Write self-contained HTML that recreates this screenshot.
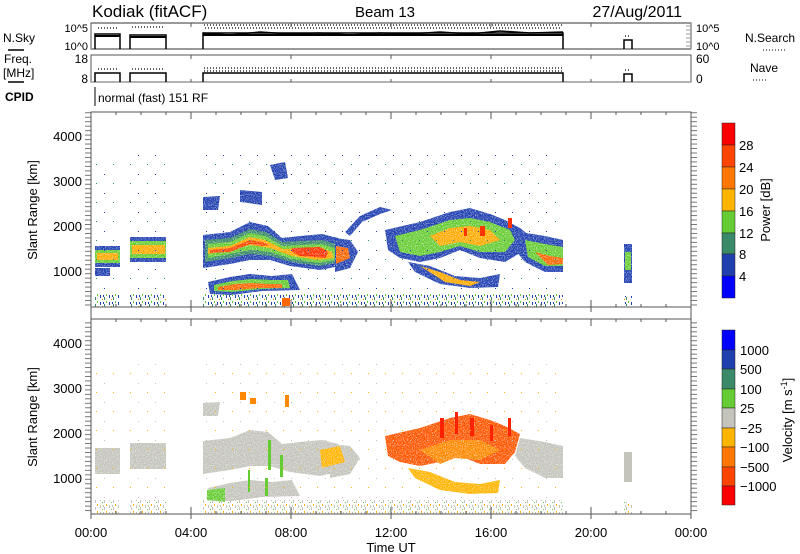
<!DOCTYPE html>
<html><head><meta charset="utf-8"><style>
html,body{margin:0;padding:0;background:#fff;}
svg{display:block;font-family:"Liberation Sans",sans-serif;}
</style></head><body>
<svg width="800" height="554" viewBox="0 0 800 554" xmlns="http://www.w3.org/2000/svg">
<defs>
<pattern id="ytk" x="0" y="0.5" width="6" height="4.47" patternUnits="userSpaceOnUse"><line x1="0" y1="0.5" x2="6" y2="0.5" stroke="#555" stroke-width="0.8"/></pattern>
<pattern id="clutP" width="9" height="7" patternUnits="userSpaceOnUse"><rect x="1" y="1" width="1" height="3" fill="#2040b0"/><rect x="5" y="3" width="1" height="3" fill="#3a8a6a"/><rect x="7" y="0" width="1" height="2" fill="#66cc33"/><rect x="3" y="5" width="1" height="1" fill="#ff8800"/><rect x="4" y="1" width="1" height="2" fill="#2040b0"/></pattern>
<pattern id="clutV" width="9" height="7" patternUnits="userSpaceOnUse"><rect x="1" y="1" width="1" height="3" fill="#c4c4bc"/><rect x="5" y="3" width="1" height="3" fill="#c4c4bc"/><rect x="7" y="0" width="1" height="2" fill="#ffb400"/><rect x="3" y="5" width="1" height="1" fill="#66cc33"/><rect x="4" y="1" width="1" height="2" fill="#c4c4bc"/></pattern>
<pattern id="dotsP" width="17" height="19" patternUnits="userSpaceOnUse"><rect x="2" y="3" width="1" height="1" fill="#2040b0"/><rect x="11" y="12" width="1" height="1" fill="#3a8a6a"/></pattern>
<pattern id="dotsV" width="17" height="19" patternUnits="userSpaceOnUse"><rect x="2" y="3" width="1" height="1" fill="#c4c4bc"/><rect x="11" y="12" width="1" height="1" fill="#ffb400"/></pattern>
<filter id="spk" x="0" y="0" width="1" height="1"><feTurbulence type="fractalNoise" baseFrequency="0.9" numOctaves="1" seed="3" result="n"/><feColorMatrix in="n" type="matrix" values="0 0 0 0 0  0 0 0 0 0  0 0 0 0 0  0 0 0 -2.0 1.9" result="m"/><feComposite in="SourceGraphic" in2="m" operator="in"/></filter>
</defs>

<!-- Titles -->
<text x="92" y="17" font-size="17">Kodiak (fitACF)</text>
<text x="385" y="17" font-size="15" text-anchor="middle">Beam 13</text>
<text x="682" y="17" font-size="16" text-anchor="end">27/Aug/2011</text>

<!-- N.Sky panel -->
<rect x="91" y="23" width="600" height="26" fill="none" stroke="#555" stroke-width="1"/>
<line x1="91" y1="23" x2="691" y2="23" stroke="#999" stroke-width="2"/>
<line x1="91" y1="49" x2="691" y2="49" stroke="#999" stroke-width="2"/>
<text x="88" y="32" font-size="11" text-anchor="end">10^5</text>
<text x="88" y="50" font-size="11" text-anchor="end">10^0</text>
<text x="696" y="32" font-size="11">10^5</text>
<text x="696" y="50" font-size="11">10^0</text>
<text x="3" y="42" font-size="12">N.Sky</text>
<line x1="8" y1="50" x2="24" y2="50" stroke="#000" stroke-width="1.5"/>
<text x="745" y="42" font-size="12">N.Search</text>
<line x1="763" y1="50" x2="785" y2="50" stroke="#000" stroke-width="1" stroke-dasharray="1,2"/>
<g fill="none" stroke="#000" stroke-width="1.5">
<path d="M95,49 V34 H120 V49 M130,49 V35 H166 V49 M203,49 V33 H563 V49 M624,49 V40 H632 V49"/>
</g>
<g stroke="#000" stroke-width="1.5" fill="none"><path d="M203,33 L230,35 L260,32 L290,34 L320,33 L350,35 L380,33 L410,34 L440,32 L470,34 L500,31 L530,33 L563,32"/><path d="M203,35 H563" stroke-width="2"/><path d="M95,36 H120 M130,37 H166" stroke-width="2"/></g>
<g stroke="#000" stroke-width="1.2" stroke-dasharray="1,2" fill="none"><path d="M98,28 H118 M132,27 H165 M204,25 H562 M205,28 H560 M625,36 H631"/></g>
<g stroke="#999" stroke-width="1"><path d="M691,26 h-5 M691,30 h-5 M691,34 h-5 M691,38 h-5 M691,42 h-5 M691,46 h-5"/></g>

<!-- Freq panel -->
<rect x="91" y="55" width="600" height="27" fill="none" stroke="#555" stroke-width="1"/>
<line x1="91" y1="82" x2="691" y2="82" stroke="#999" stroke-width="1.5"/>
<text x="88" y="63" font-size="12" text-anchor="end">18</text>
<text x="88" y="83" font-size="12" text-anchor="end">8</text>
<text x="696" y="63" font-size="12">60</text>
<text x="696" y="83" font-size="12">0</text>
<text x="4" y="63" font-size="12">Freq.</text>
<text x="3" y="77" font-size="12">[MHz]</text>
<line x1="8" y1="82" x2="24" y2="82" stroke="#000" stroke-width="1.5"/>
<text x="750" y="72" font-size="12">Nave</text>
<line x1="753" y1="80" x2="766" y2="80" stroke="#000" stroke-width="1" stroke-dasharray="1,2"/>
<g fill="none" stroke="#000" stroke-width="1.5">
<path d="M95,82 V73 H120 V82 M130,82 V73 H166 V82 M203,82 V73 H563 V82 M624,82 V74 H632 V82"/>
</g>
<g stroke="#000" stroke-width="1.2" stroke-dasharray="1,2" fill="none"><path d="M98,69 H118 M132,69 H165 M204,68 H562 M204,71 H562 M625,70 H631"/></g>

<!-- CPID -->
<text x="5" y="101" font-size="12" font-weight="bold">CPID</text>
<line x1="95" y1="87" x2="95" y2="106" stroke="#000" stroke-width="1"/>
<text x="98" y="102" font-size="12">normal (fast) 151 RF</text>

<!-- POWER PANEL -->
<g>
<g filter="url(#spk)">
<rect x="95" y="246" width="25" height="21" fill="#2040b0"/>
<rect x="95" y="250" width="25" height="13" fill="#66cc33"/>
<rect x="97" y="253" width="21" height="7" fill="#ffaa00"/>
<rect x="95" y="268" width="15" height="8" fill="#2040b0"/>
<rect x="130" y="237" width="36" height="25" fill="#2040b0"/>
<rect x="130" y="241" width="36" height="17" fill="#66cc33"/>
<rect x="132" y="245" width="33" height="9" fill="#ffaa00"/>
<polygon points="203,235 230,232 250,222 268,226 282,238 300,236 322,234 338,238 355,252 345,265 320,270 290,266 270,260 250,260 230,264 203,268" fill="#2040b0"/>
<polygon points="205,240 230,238 250,229 266,232 282,242 300,241 322,240 336,244 348,253 340,262 320,266 292,262 270,256 250,254 230,258 205,262" fill="#3a8a6a"/>
<polygon points="208,244 230,242 250,233 265,236 283,246 300,245 322,244 334,248 342,254 336,260 318,263 292,259 270,252 250,250 230,254 208,258" fill="#66cc33"/>
<polygon points="208,248 230,246 250,237 265,240 283,249 300,248 320,247 332,252 334,258 318,260 292,256 270,248 250,245 230,250 208,254" fill="#ffaa00"/>
<polygon points="210,250 230,248 250,240 262,242 270,245 262,246 250,244 230,252 210,253" fill="#ff4400"/>
<polygon points="292,248 320,247 328,252 326,258 300,256 292,252" fill="#ff3300"/>
<polygon points="208,282 230,277 250,274 272,276 292,274 300,290 262,291 232,295 210,294" fill="#2040b0"/>
<polygon points="214,285 232,281 252,279 272,280 288,280 290,288 262,289 232,292 214,291" fill="#66cc33"/>
<polygon points="218,287 235,284 252,283 270,284 282,284 282,288 260,288 235,290 218,290" fill="#ff6600"/>
<polygon points="335,238 350,240 358,252 350,268 335,272" fill="#2040b0"/>
<polygon points="336,246 348,248 350,258 336,264" fill="#ff6600"/>
<polygon points="345,232 360,216 380,207 392,210 380,214 362,222 350,236" fill="#2040b0"/>
<polygon points="385,230 420,222 450,212 470,208 490,214 505,220 520,228 530,236 525,250 505,262 480,258 460,250 440,258 420,262 400,258 388,250" fill="#2040b0"/>
<polygon points="395,236 420,230 450,220 470,218 490,222 510,230 515,240 505,252 480,252 460,246 440,252 420,256 400,252" fill="#66cc33"/>
<polygon points="430,236 450,228 470,226 490,230 500,240 480,246 460,242 440,246" fill="#ffaa00"/>
<polygon points="408,262 430,266 455,276 480,278 500,274 498,287 470,288 440,284 415,272" fill="#2040b0"/>
<polygon points="420,266 440,272 460,280 480,282 470,286 445,282" fill="#ffaa00"/>
<polygon points="520,232 545,236 563,240 563,272 545,272 525,262 515,250" fill="#2040b0"/>
<polygon points="525,240 545,244 563,247 563,266 545,266 528,257" fill="#66cc33"/>
<polygon points="535,252 550,256 563,258 563,264 548,265" fill="#ff6600"/>
<rect x="624" y="244" width="8" height="39" fill="#2040b0"/>
<rect x="625" y="252" width="6" height="18" fill="#66cc33"/>
<polygon points="203,197 220,196 218,210 203,210" fill="#2040b0"/>
<polygon points="240,190 262,192 262,205 240,202" fill="#2040b0"/>
<polygon points="270,165 285,162 288,178 275,180" fill="#2040b0"/>
</g>
<g fill="#ff3300">
<rect x="480" y="226" width="5" height="10"/><rect x="508" y="218" width="4" height="10"/><rect x="464" y="228" width="3" height="8"/>
</g>
<rect x="95" y="160" width="25" height="135" fill="url(#dotsP)"/>
<rect x="130" y="155" width="36" height="140" fill="url(#dotsP)"/>
<rect x="203" y="155" width="360" height="140" fill="url(#dotsP)"/>
<rect x="95" y="293" width="25" height="14" fill="url(#clutP)"/>
<rect x="130" y="293" width="36" height="14" fill="url(#clutP)"/>
<rect x="203" y="293" width="360" height="14" fill="url(#clutP)"/>
<rect x="282" y="298" width="8" height="8" fill="#ff6600"/>
<rect x="624" y="296" width="8" height="10" fill="url(#clutP)"/>
</g>
<rect x="91" y="112" width="600" height="195" fill="none" stroke="#555" stroke-width="1"/>
<rect x="85" y="112" width="6" height="195" fill="url(#ytk)"/>
<rect x="691" y="112" width="6" height="195" fill="url(#ytk)"/>
<g font-size="13" text-anchor="end">
<text x="82" y="141">4000</text><text x="82" y="186">3000</text><text x="82" y="231">2000</text><text x="82" y="276">1000</text>
</g>
<text transform="translate(37,210) rotate(-90)" font-size="13" text-anchor="middle">Slant  Range  [km]</text>

<!-- VELOCITY PANEL -->
<g>
<g filter="url(#spk)">
<rect x="95" y="448" width="25" height="26" fill="#c4c4bc"/>
<rect x="130" y="443" width="36" height="26" fill="#c4c4bc"/>
<polygon points="203,441 230,438 250,430 268,432 282,444 300,442 322,440 338,444 355,458 345,471 320,476 290,472 270,466 250,466 230,470 203,474" fill="#c4c4bc"/>
<polygon points="208,488 230,483 250,480 272,482 292,480 300,496 262,497 232,501 210,500" fill="#c4c4bc"/>
<polygon points="330,444 350,446 360,458 350,474 330,478" fill="#c4c4bc"/>
<polygon points="520,438 545,442 563,446 563,478 545,478 525,468 515,456" fill="#c4c4bc"/>
<polygon points="203,403 220,402 218,416 203,416" fill="#c4c4bc"/>
<polygon points="408,468 430,472 455,482 480,484 500,480 498,493 470,494 440,490 415,478" fill="#ffb400"/>
<polygon points="385,436 420,428 450,418 470,414 490,420 505,426 520,434 515,452 505,464 480,464 460,456 440,462 420,466 400,462 388,456" fill="#ff5500"/>
<polygon points="420,450 450,440 480,440 500,450 480,460 455,458 440,464" fill="#ff8800"/>
<polygon points="320,450 340,446 345,462 322,468" fill="#ffb400"/>
<polygon points="207,490 225,488 225,502 207,500" fill="#66cc33"/>
</g>
<g fill="#ff2200">
<rect x="440" y="418" width="4" height="20"/><rect x="455" y="412" width="3" height="22"/><rect x="470" y="418" width="4" height="18"/><rect x="490" y="425" width="3" height="16"/><rect x="508" y="418" width="3" height="18"/>
</g>
<g fill="#66cc33">
<rect x="268" y="440" width="3" height="30"/><rect x="280" y="455" width="3" height="22"/><rect x="248" y="470" width="2" height="22"/><rect x="265" y="478" width="3" height="18"/>
</g>
<g fill="#ff8800"><rect x="240" y="392" width="6" height="8"/><rect x="250" y="398" width="6" height="6"/><rect x="285" y="395" width="4" height="12"/></g>
<rect x="95" y="366" width="25" height="135" fill="url(#dotsV)"/>
<rect x="130" y="361" width="36" height="140" fill="url(#dotsV)"/>
<rect x="203" y="361" width="360" height="140" fill="url(#dotsV)"/>
<rect x="95" y="500" width="25" height="14" fill="url(#clutV)"/>
<rect x="130" y="500" width="36" height="14" fill="url(#clutV)"/>
<rect x="203" y="500" width="360" height="14" fill="url(#clutV)"/>
<rect x="624" y="452" width="8" height="30" fill="#c4c4bc"/>
<rect x="624" y="502" width="8" height="12" fill="url(#clutV)"/>
</g>
<rect x="91" y="319" width="600" height="195" fill="none" stroke="#555" stroke-width="1"/>
<rect x="85" y="319" width="6" height="195" fill="url(#ytk)"/>
<rect x="691" y="319" width="6" height="195" fill="url(#ytk)"/>
<g font-size="13" text-anchor="end">
<text x="82" y="348">4000</text><text x="82" y="393">3000</text><text x="82" y="438">2000</text><text x="82" y="483">1000</text>
</g>
<text transform="translate(37,417) rotate(-90)" font-size="13" text-anchor="middle">Slant  Range  [km]</text>

<!-- x ticks -->
<g stroke="#555" stroke-width="1">
<path d="M91,112v7 M191,112v7 M291,112v7 M391,112v7 M491,112v7 M591,112v7 M691,112v7
M116,112v3 M141,112v3 M166,112v3 M216,112v3 M241,112v3 M266,112v3 M316,112v3 M341,112v3 M366,112v3 M416,112v3 M441,112v3 M466,112v3 M516,112v3 M541,112v3 M566,112v3 M616,112v3 M641,112v3 M666,112v3"/>
<path d="M91,307v-7 M191,307v-7 M291,307v-7 M391,307v-7 M491,307v-7 M591,307v-7 M691,307v-7
M116,307v-3 M141,307v-3 M166,307v-3 M216,307v-3 M241,307v-3 M266,307v-3 M316,307v-3 M341,307v-3 M366,307v-3 M416,307v-3 M441,307v-3 M466,307v-3 M516,307v-3 M541,307v-3 M566,307v-3 M616,307v-3 M641,307v-3 M666,307v-3"/>
<path d="M91,307v12 M191,307v5 M291,307v5 M391,307v5 M491,307v5 M591,307v5 M691,307v12 M116,319v3 M141,319v3 M166,319v3 M191,319v7 M216,319v3 M241,319v3 M266,319v3 M291,319v7 M316,319v3 M341,319v3 M366,319v3 M391,319v7 M416,319v3 M441,319v3 M466,319v3 M491,319v7 M516,319v3 M541,319v3 M566,319v3 M591,319v7 M616,319v3 M641,319v3 M666,319v3"/>
<path d="M91,514v-7 M191,514v-7 M291,514v-7 M391,514v-7 M491,514v-7 M591,514v-7 M691,514v-7
M116,514v-3 M141,514v-3 M166,514v-3 M216,514v-3 M241,514v-3 M266,514v-3 M316,514v-3 M341,514v-3 M366,514v-3 M416,514v-3 M441,514v-3 M466,514v-3 M516,514v-3 M541,514v-3 M566,514v-3 M616,514v-3 M641,514v-3 M666,514v-3
M91,514v5 M191,514v5 M291,514v5 M391,514v5 M491,514v5 M591,514v5 M691,514v5"/>
<path d="M91,23v4 M191,23v4 M291,23v4 M391,23v4 M491,23v4 M591,23v4 M91,55v4 M191,55v4 M291,55v4 M391,55v4 M491,55v4 M591,55v4 M191,82v-3 M291,82v-3 M391,82v-3 M491,82v-3 M591,82v-3"/>
</g>
<g font-size="13" text-anchor="middle">
<text x="91" y="537">00:00</text><text x="191" y="537">04:00</text><text x="291" y="537">08:00</text><text x="391" y="537">12:00</text><text x="491" y="537">16:00</text><text x="591" y="537">20:00</text><text x="691" y="537">00:00</text>
</g>
<text x="391" y="552" font-size="13" text-anchor="middle">Time UT</text>

<!-- Power colorbar -->
<g stroke="#222" stroke-width="0.5">
<rect x="722" y="123" width="13" height="22" fill="#ff0000"/>
<rect x="722" y="145" width="13" height="22" fill="#ff4400"/>
<rect x="722" y="167" width="13" height="22" fill="#ff7700"/>
<rect x="722" y="189" width="13" height="22" fill="#ffb400"/>
<rect x="722" y="211" width="13" height="22" fill="#66cc33"/>
<rect x="722" y="233" width="13" height="21" fill="#3a8a6a"/>
<rect x="722" y="254" width="13" height="22" fill="#2040b0"/>
<rect x="722" y="276" width="13" height="22" fill="#0000ff"/>
</g>
<g font-size="13">
<text x="739" y="150">28</text><text x="739" y="172">24</text><text x="739" y="194">20</text><text x="739" y="216">16</text><text x="739" y="238">12</text><text x="739" y="259">8</text><text x="739" y="281">4</text>
</g>
<text transform="translate(770,210) rotate(-90)" font-size="13" text-anchor="middle">Power  [dB]</text>

<!-- Velocity colorbar -->
<g stroke="#222" stroke-width="0.5">
<rect x="722" y="330" width="13" height="20" fill="#0000ff"/>
<rect x="722" y="350" width="13" height="19" fill="#2040b0"/>
<rect x="722" y="369" width="13" height="20" fill="#3a8a6a"/>
<rect x="722" y="389" width="13" height="19" fill="#66cc33"/>
<rect x="722" y="408" width="13" height="20" fill="#c4c4bc"/>
<rect x="722" y="428" width="13" height="19" fill="#ffb400"/>
<rect x="722" y="447" width="13" height="20" fill="#ff7700"/>
<rect x="722" y="467" width="13" height="19" fill="#ff4400"/>
<rect x="722" y="486" width="13" height="19" fill="#ff0000"/>
</g>
<g font-size="13">
<text x="740" y="355">1000</text><text x="740" y="374">500</text><text x="740" y="394">100</text><text x="740" y="413">25</text><text x="740" y="433">−25</text><text x="740" y="452">−100</text><text x="740" y="472">−500</text><text x="740" y="491">−1000</text>
</g>
<text transform="translate(792,420) rotate(-90)" font-size="13" text-anchor="middle">Velocity  [m  s<tspan font-size="9" dy="-5">-1</tspan><tspan dy="5">]</tspan></text>
</svg>
</body></html>
